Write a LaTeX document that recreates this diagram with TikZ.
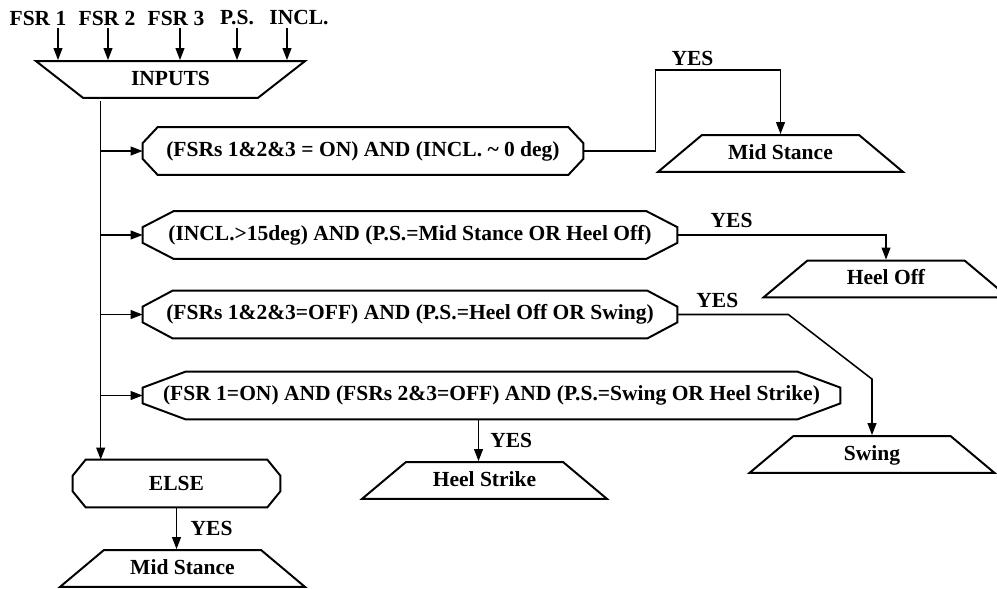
\documentclass[tikz,border=0pt]{standalone}
\usepackage{fontspec}
\setmainfont{Liberation Serif}
\usepackage{tikz}
\usetikzlibrary{
    arrows.meta,
    positioning,
    shapes.geometric,
    calc
}
\newcommand{\lblfont}{\fontsize{15.3}{18}\selectfont\bfseries}
% octagon-like outline round a condition node: #1 node, #2 horizontal cut
\newcommand{\condoutline}[2]{%
    \draw[outline] ([xshift=#2]#1.north west) -- ([xshift=-#2]#1.north east)
        -- ([yshift=-0.4cm]#1.north east) -- ([yshift=0.4cm]#1.south east)
        -- ([xshift=-#2]#1.south east) -- ([xshift=#2]#1.south west)
        -- ([yshift=0.4cm]#1.south west) -- ([yshift=-0.4cm]#1.north west) -- cycle;
}
\tikzset{
    outline/.style={line width=1.4pt, line join=miter},
    signal/.style={font=\lblfont, inner sep=2pt},
    cond/.style={
        rectangle, minimum height=1.18cm, minimum width=#1,
        inner sep=0pt, font=\lblfont
    },
    phase/.style={
        trapezium, trapezium left angle=40, trapezium right angle=40,
        trapezium stretches body=true, draw, outline,
        text height=11pt, text depth=3pt, inner xsep=0pt, inner ysep=6.1pt,
        minimum width=6.125cm, font=\lblfont
    },
    inputs box/.style={
        phase, trapezium left angle=142, trapezium right angle=142,
        minimum width=6.725cm
    },
    flow/.style={-{Triangle[length=0.3cm, width=0.22cm]}, line width=1.1pt},
    yes/.style={font=\lblfont, inner sep=1pt},
}

\begin{document}
\begin{tikzpicture}[x=0.025cm, y=-0.025cm]
    \useasboundingbox (0,0) rectangle (997,588);

    % sensor signals and input block
    \node[signal] (fsr1) at (38,18) {FSR 1};
    \node[signal] (fsr2) at (107,18) {FSR 2};
    \node[signal] (fsr3) at (176,18) {FSR 3};
    \node[signal] (ps) at (237,18) {P.S.};
    \node[signal] (incl) at (299,18) {INCL.};
    \node[inputs box] (inputs) at (170.5,79.5) {INPUTS};

    \draw[flow] ($(fsr1.south)+(20,0)$) -- ($(fsr1.south |- inputs.north)+(20,0)$);
    \draw[flow] ($(fsr2.south)+(1,0)$) -- ($(fsr2.south |- inputs.north)+(1,0)$);
    \draw[flow] ($(fsr3.south)+(4,0)$) -- ($(fsr3.south |- inputs.north)+(4,0)$);
    \draw[flow] (ps.south) -- (ps.south |- inputs.north);
    \draw[flow] ($(incl.south)+(-12,0)$) -- ($(incl.south |- inputs.north)+(-12,0)$);

    % conditions
    \node[cond=11cm] (c1) at (363,151) {(FSRs 1\&2\&3 = ON) AND (INCL. \textasciitilde{} 0 deg)};
    \node[cond=13.35cm] (c2) at (410,235) {(INCL.>15deg) AND (P.S.=Mid Stance OR Heel Off)};
    \node[cond=13.35cm] (c3) at (410,314.5) {(FSRs 1\&2\&3=OFF) AND (P.S.=Heel Off OR Swing)};
    \node[cond=17.425cm] (c4) at (491.5,395.5) {(FSR 1=ON) AND (FSRs 2\&3=OFF) AND (P.S.=Swing OR Heel Strike)};
    \node[cond=5.175cm] (else) at (176.5,483.5) {ELSE};

    \condoutline{c1}{0.375cm}
    \condoutline{c2}{0.775cm}
    \condoutline{c3}{0.75cm}
    \condoutline{c4}{1.075cm}
    \condoutline{else}{0.325cm}

    % resulting phases
    \node[phase] (ms1) at (780.5,153.5) {Mid Stance};
    \node[phase] (ho) at (886,279) {Heel Off};
    \node[phase] (sw) at (872,454.5) {Swing};
    \node[phase] (hs) at (484.5,480.5) {Heel Strike};
    \node[phase] (ms2) at (182.5,568.5) {Mid Stance};

    % trunk and branches
    \coordinate (trunk) at (100.7,101);
    \draw[flow] (trunk) -- (trunk |- else.north);
    \draw[flow] (trunk |- c1.west) -- (c1.west);
    \draw[flow] (trunk |- c2.west) -- (c2.west);
    \draw[flow] (trunk |- c3.west) -- (c3.west);
    \draw[flow] (trunk |- c4.west) -- (c4.west);

    % YES paths
    \draw[flow] (c1.east) -| ++(72,-81)
        node[yes, anchor=south west, xshift=0.35cm, yshift=0.06cm] {YES} -| (ms1.north);
    \draw[flow] (c2.east) -| node[yes, above=0.12cm, pos=0.13] {YES} (ho.north);
    \draw[flow] (c3.east) -- node[yes, above=0.12cm, pos=0.36] {YES} ++(111,0)
        -- ($(sw.north)+(0,-56)$) -- (sw.north);
    \draw[flow] ($(hs.north |- c4.south)+(-6,0)$) -- node[yes, right=0.24cm] {YES} ($(hs.north)+(-6,0)$);
    \draw[flow] (else.south) -- node[yes, right=0.3cm] {YES} (else.south |- ms2.north);
\end{tikzpicture}
\end{document}
